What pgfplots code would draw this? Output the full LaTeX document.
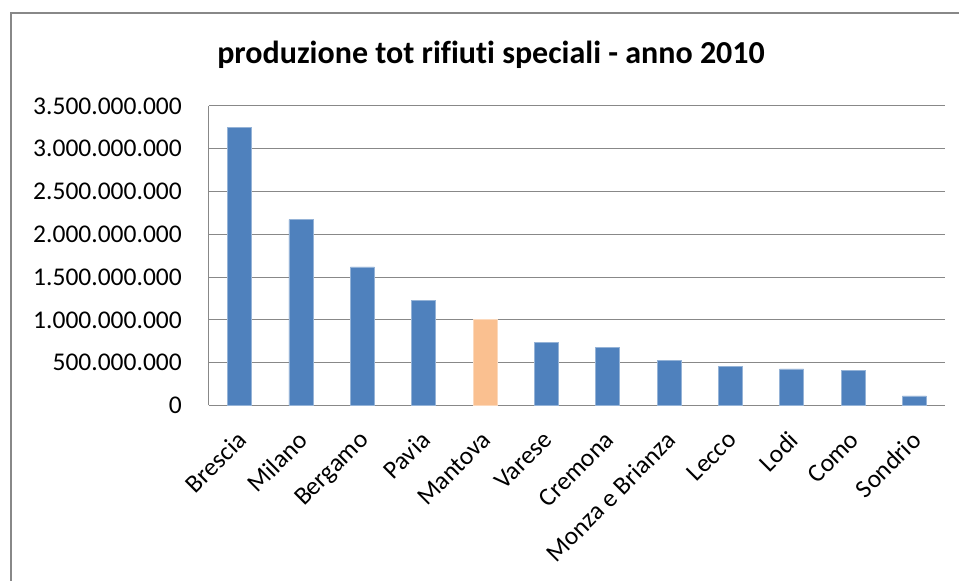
\documentclass[border=0pt]{standalone}
\usepackage{pgfplots}
\pgfplotsset{compat=1.18}
\usepackage{fontspec}
\setmainfont{Carlito}[Ligatures=NoCommon]
\definecolor{barblue}{HTML}{4F81BD}
\definecolor{barorange}{HTML}{FAC090}
\definecolor{gridgray}{HTML}{888888}
\begin{document}
\begin{tikzpicture}
% canvas = 959 x 581 px, 1pt = 1px
\path[use as bounding box] (0pt,0pt) rectangle (959pt,581pt);
\draw[gridgray,line width=2pt] (11pt,0pt) -- (11pt,568pt) -- (959pt,568pt);
\node[font=\fontsize{32}{38}\selectfont\bfseries] at (491pt,526pt) {produzione tot rifiuti speciali - anno 2010};
\begin{axis}[
    at={(209pt,175.5pt)}, anchor=south west,
    scale only axis,
    width=736pt, height=299.5pt,
    ybar, bar width=24pt,
    xmin=-0.5, xmax=11.5,
    ymin=0, ymax=3500000000,
    scaled y ticks=false,
    ytick={0,500000000,1000000000,1500000000,2000000000,2500000000,3000000000,3500000000},
    yticklabels={0,500.000.000,1.000.000.000,1.500.000.000,2.000.000.000,2.500.000.000,3.000.000.000,3.500.000.000},
    xtick={0,...,11},
    xticklabels={Brescia,Milano,Bergamo,Pavia,Mantova,Varese,Cremona,Monza e Brianza,Lecco,Lodi,Como,Sondrio},
    ticklabel style={font=\fontsize{25.5}{30}\selectfont, inner sep=0pt},
    % shifts act in the rotated frame
    xticklabel style={rotate=45, anchor=north east, xshift=-20pt, yshift=-14pt},
    yticklabel style={anchor=east, xshift=-27pt},
    major tick length=0pt,
    axis lines*=left,
    axis line style={gridgray, line width=1pt},
    ymajorgrids=true,
    grid style={gridgray, line width=1pt},
    enlarge x limits=false,
    enlarge y limits=false,
]
\addplot[fill=barblue, draw=barblue!60!white, bar shift=0pt] coordinates {
    (0,3248000000) (1,2173000000) (2,1619000000) (3,1230000000)
    (5,736000000) (6,678000000) (7,531000000) (8,457000000)
    (9,427000000) (10,410000000) (11,113000000)
};
\addplot[fill=barorange, draw=barorange!60!white, bar shift=0pt] coordinates {
    (4,1005000000)
};
\end{axis}
\end{tikzpicture}
\end{document}
